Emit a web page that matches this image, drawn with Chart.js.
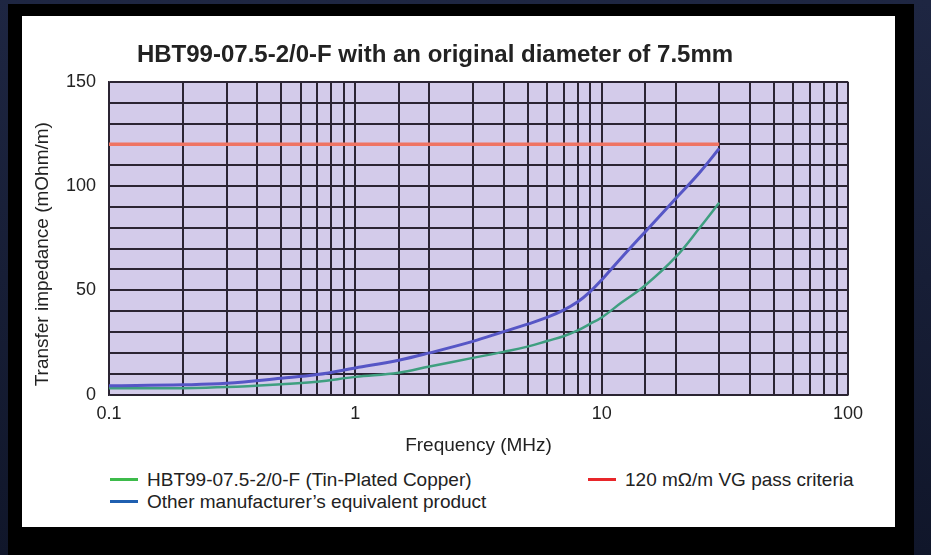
<!DOCTYPE html>
<html>
<head>
<meta charset="utf-8">
<script src="https://cdn.jsdelivr.net/npm/chart.js@4.4.1/dist/chart.umd.min.js"></script>
<style>
html,body{margin:0;padding:0;}
body{width:931px;height:555px;overflow:hidden;position:relative;background:linear-gradient(180deg,#1e2642,#10162a);font-family:"Liberation Sans",Arial,sans-serif;}
#frame{position:absolute;left:8px;top:4px;width:906px;height:551px;background:#000;}
#panel{position:absolute;left:22px;top:16px;width:873px;height:511px;background:#fff;}
#chartBox{position:absolute;left:0;top:0;width:873px;height:445px;}
.item{position:absolute;font-size:19px;line-height:22px;color:#222;white-space:nowrap;}
.item .sw{display:inline-block;width:28px;height:3px;vertical-align:middle;margin-right:9px;position:relative;top:-1px;}
</style>
</head>
<body>
<div id="frame"></div>
<div id="panel">
  <div id="chartBox"><canvas id="chart" width="873" height="445"></canvas></div>
  <div class="item" style="left:88px;top:453px;"><span class="sw" style="background:#3dbb4b"></span>HBT99-07.5-2/0-F (Tin-Plated Copper)</div>
  <div class="item" style="left:88px;top:475px;"><span class="sw" style="background:#1f5fb0"></span>Other manufacturer’s equivalent product</div>
  <div class="item" style="left:566px;top:453px;"><span class="sw" style="background:#e8262a"></span>120 mΩ/m VG pass criteria</div>
</div>
<script>
// values (MHz / mOhm per m)
const freqs = [0.1, 0.2, 0.3, 0.5, 0.7, 1, 1.5, 2, 3, 4, 5, 6, 7, 8, 9, 10, 12, 15, 20, 25, 30];
const tinPlated = [3, 3.1, 3.6, 5, 6.2, 8.5, 10.5, 13.5, 17.6, 20.5, 23, 25.7, 28, 30.8, 34, 37, 44, 52.3, 66, 80, 92];
const otherMaker = [4.3, 4.7, 5.4, 7.8, 9.6, 12.8, 16.5, 20, 25.5, 30.2, 33.8, 37, 40.5, 44.5, 49.5, 55, 65.5, 78, 94, 106.5, 118];
const limitFreqs = [0.1, 30];
const limitValues = [120, 120];
const xLabels = [0.1, 1, 10, 100];
const yLabels = [0, 50, 100, 150];
const yTitle = "Transfer impedance (mOhm/m)";

Chart.defaults.font.family = '"Liberation Sans", Arial, sans-serif';
Chart.defaults.color = "#222";

const gridColor = "#2b2433";

const plotBg = {
  id: "plotBg",
  beforeDraw(chart) {
    const a = chart.chartArea;
    const ctx = chart.ctx;
    ctx.save();
    ctx.fillStyle = "#d3cbea";
    ctx.fillRect(a.left, a.top, a.right - a.left, a.bottom - a.top);
    ctx.restore();
  }
};

// the y title in the original sits a little below the middle of the axis
const yTitlePlugin = {
  id: "yTitlePlugin",
  afterDraw(chart) {
    const a = chart.chartArea;
    const ctx = chart.ctx;
    ctx.save();
    ctx.translate(21, (a.top + a.bottom) / 2 + 16);
    ctx.rotate(-Math.PI / 2);
    ctx.font = '19px "Liberation Sans", Arial, sans-serif';
    ctx.fillStyle = "#222";
    ctx.textAlign = "center";
    ctx.textBaseline = "middle";
    ctx.fillText(yTitle, 0, 0);
    ctx.restore();
  }
};

const toPoints = (xs, ys) => xs.map((x, i) => ({x: x, y: ys[i]}));

new Chart(document.getElementById("chart"), {
  type: "line",
  data: {
    datasets: [
      {
        label: "120 mΩ/m VG pass criteria",
        data: toPoints(limitFreqs, limitValues),
        borderColor: "#ef7463",
        borderWidth: 3.5,
        pointRadius: 0
      },
      {
        label: "Other manufacturer’s equivalent product",
        data: toPoints(freqs, otherMaker),
        borderColor: "#5656c6",
        borderWidth: 3,
        pointRadius: 0,
        tension: 0.4
      },
      {
        label: "HBT99-07.5-2/0-F (Tin-Plated Copper)",
        data: toPoints(freqs, tinPlated),
        borderColor: "#3f9f80",
        borderWidth: 2.5,
        pointRadius: 0,
        tension: 0.4
      }
    ]
  },
  options: {
    responsive: false,
    animation: false,
    layout: {padding: {top: 0, right: 47, bottom: 0, left: 0}},
    plugins: {
      legend: {display: false},
      tooltip: {enabled: false},
      title: {
        display: true,
        text: "HBT99-07.5-2/0-F with an original diameter of 7.5mm",
        color: "#222",
        font: {size: 24, weight: "bold"},
        padding: {top: 25, bottom: 12}
      }
    },
    scales: {
      x: {
        type: "logarithmic",
        min: 0.1,
        max: 100,
        grid: {color: gridColor, lineWidth: 2, drawTicks: false},
        border: {color: gridColor, width: 1.5},
        ticks: {
          autoSkip: false,
          maxRotation: 0,
          padding: 9,
          font: {size: 18},
          callback: v => xLabels.some(t => Math.abs(t - v) < 1e-9) ? String(v) : ""
        },
        title: {display: true, text: "Frequency (MHz)", font: {size: 19}, padding: {top: 0, bottom: 4}}
      },
      y: {
        min: 0,
        max: 150,
        afterFit: s => { s.width = 87; },
        grid: {color: gridColor, lineWidth: 2, drawTicks: false},
        border: {color: gridColor, width: 1.5},
        ticks: {
          stepSize: 10,
          autoSkip: false,
          padding: 13,
          font: {size: 18},
          callback: v => yLabels.includes(v) ? String(v) : ""
        },
        title: {display: false}
      }
    }
  },
  plugins: [plotBg, yTitlePlugin]
});
</script>
</body>
</html>
